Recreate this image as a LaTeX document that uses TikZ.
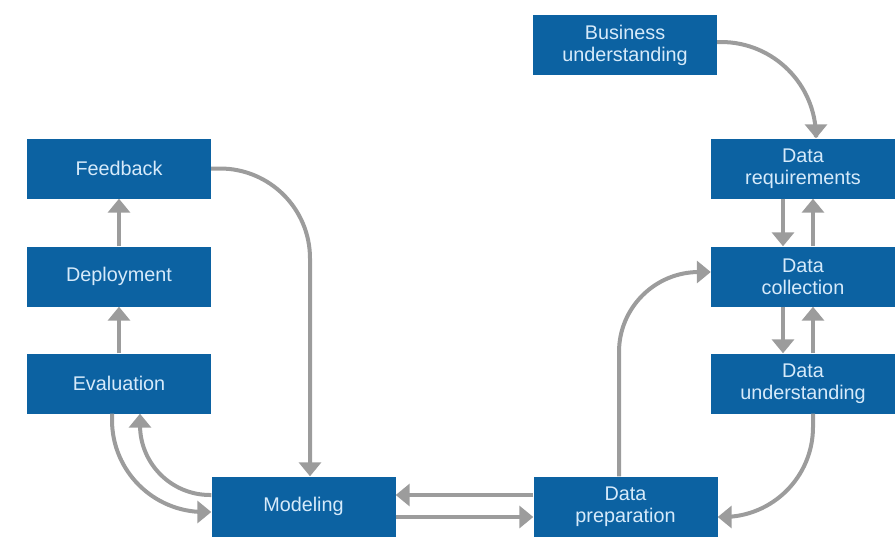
\documentclass[tikz,border=0pt]{standalone}
\usepackage{fontspec}
\setmainfont{Liberation Sans}
\usetikzlibrary{arrows.meta}
\definecolor{boxblue}{RGB}{12,98,162}
\definecolor{boxtext}{RGB}{214,234,250}
\definecolor{linkgray}{RGB}{156,156,156}
\begin{document}
\begin{tikzpicture}[x=1pt,y=-1pt,
  stage/.style={rectangle, fill=boxblue, text=boxtext, minimum width=184pt,
    minimum height=60pt, inner sep=0pt, align=center,
    font=\fontsize{19.8}{22}\selectfont},
  link/.style={draw=linkgray, line width=4pt,
    -{Triangle[width=22pt,length=14pt]}}]
\useasboundingbox (0,0) rectangle (896,552);

% process stages
\node[stage] (bu) at (625,45)    {Business\\understanding};
\node[stage] (dr) at (803,168.5) {Data\\requirements};
\node[stage] (dc) at (803,276.5) {Data\\collection};
\node[stage] (du) at (803,383.5) {Data\\understanding};
\node[stage] (dp) at (625.5,506.5) {Data\\preparation};
\node[stage] (mo) at (303.5,506.5) {Modeling};
\node[stage] (ev) at (119,383.5) {Evaluation};
\node[stage] (de) at (119,276.5) {Deployment};
\node[stage] (fb) at (119,168.5) {Feedback};

% curved links
\draw[link, rounded corners=95pt] ([yshift=3pt]bu.east) -| ([xshift=13pt]dr.north);
\draw[link, rounded corners=90pt] ([xshift=10pt]du.south) |- ([yshift=-10.5pt]dp.east);
\draw[link, rounded corners=80pt] ([xshift=-6.5pt]dp.north) |- ([yshift=4.5pt]dc.west);
\draw[link, rounded corners=90pt] (fb.east) -| ([xshift=6.5pt]mo.north);
\draw[link, rounded corners=70pt] ([yshift=11.5pt]mo.west) -| ([xshift=21pt]ev.south);
\draw[link, rounded corners=92pt] ([xshift=-7pt]ev.south) |- ([yshift=-5.5pt]mo.west);

% straight links on the right column
\draw[link] ([xshift=-20pt]dr.south) -- ([xshift=-20pt]dc.north);
\draw[link] ([xshift=10pt]dc.north) -- ([xshift=10pt]dr.south);
\draw[link] ([xshift=-20pt]dc.south) -- ([xshift=-20pt]du.north);
\draw[link] ([xshift=10pt]du.north) -- ([xshift=10pt]dc.south);

% straight links between preparation and modeling
\draw[link] ([yshift=11.5pt]dp.west) -- ([yshift=11.5pt]mo.east);
\draw[link] ([yshift=-10.5pt]mo.east) -- ([yshift=-10.5pt]dp.west);

% straight links on the left column
\draw[link] (ev.north) -- (de.south);
\draw[link] (de.north) -- (fb.south);
\end{tikzpicture}
\end{document}
